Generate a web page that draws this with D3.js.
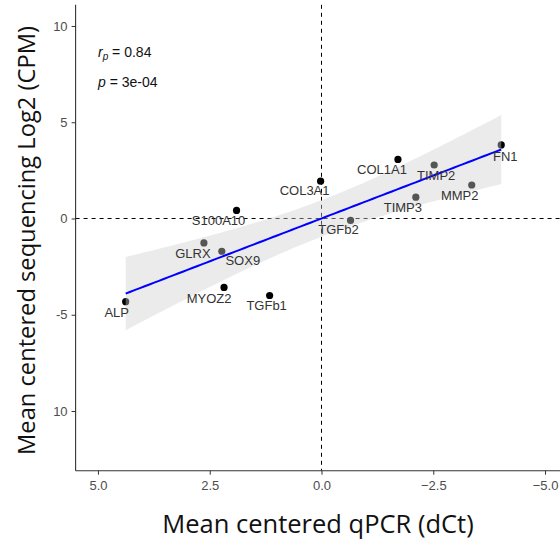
<!DOCTYPE html>
<html>
<head>
<meta charset="utf-8">
<script src="https://cdn.jsdelivr.net/npm/d3@7"></script>
<style>
  body { margin: 0; background: #fff; }
  svg { display: block; }
</style>
</head>
<body>
<svg id="chart"></svg>
<script>
const genes = ["ALP", "GLRX", "SOX9", "S100A10", "COL3A1", "MYOZ2", "TGFb1", "TGFb2", "COL1A1", "TIMP2", "TIMP3", "MMP2", "FN1"]
const qpcr = [4.38, 2.63, 2.23, 1.90, 0.02, 2.18, 1.16, -0.65, -1.71, -2.52, -2.11, -3.36, -4.02]
const seq = [-4.32, -1.27, -1.70, 0.42, 1.94, -3.58, -4.00, -0.10, 3.07, 2.78, 1.11, 1.74, 3.82]
const xTicks = [5, 2.5, 0, -2.5, -5]
const yTicks = [10, 5, 0, -5, -10]
const yTickLabels = ["10", "5", "0", "-5", "10"]

// label nudges in pixels (dx, dy of text centre from point)
const nudge = {
    ALP: [-9, 15], GLRX: [-11, 15], SOX9: [21, 14], S100A10: [-18, 15], COL3A1: [-16, 14],
    MYOZ2: [-15, 16], TGFb1: [-3, 14], TGFb2: [-12, 14], COL1A1: [-16, 15], TIMP2: [2, 15],
    TIMP3: [-13, 15], MMP2: [-12, 15], FN1: [4, 16]
}

const width = 560
const height = 541
const pL = 75.6, pR = 567.4, pT = 4.8, pB = 470.7

const svg = d3.select("#chart").attr("width", width).attr("height", height)

const x = d3.scaleLinear().domain([5.5, -5.5]).range([pL, pR])
const y = d3.scaleLinear().domain([-13.1, 11.1]).range([pB, pT])

const data = genes.map((g, i) => ({ gene: g, x: qpcr[i], y: seq[i] }))

// linear fit + 95% confidence band (like geom_smooth(method = "lm"))
const n = data.length
const mx = d3.mean(data, d => d.x), my = d3.mean(data, d => d.y)
const sxx = d3.sum(data, d => (d.x - mx) ** 2)
const slope = d3.sum(data, d => (d.x - mx) * (d.y - my)) / sxx
const icpt = my - slope * mx
const s = Math.sqrt(d3.sum(data, d => (d.y - icpt - slope * d.x) ** 2) / (n - 2))
const tq = 2.201 // t(0.975, 11)
const fitX = d3.range(80).map(i => d3.min(qpcr) + i * (d3.max(qpcr) - d3.min(qpcr)) / 79)
const fit = fitX.map(v => {
    const f = icpt + slope * v
    const se = s * Math.sqrt(1 / n + (v - mx) ** 2 / sxx)
    return { x: v, y: f, lo: f - tq * se, hi: f + tq * se }
})

// dashed reference lines
svg.append("line")
    .attr("x1", x(0)).attr("x2", x(0)).attr("y1", pT).attr("y2", pB)
    .attr("stroke", "#000").attr("stroke-dasharray", "4,4")
svg.append("line")
    .attr("x1", pL).attr("x2", pR).attr("y1", y(0)).attr("y2", y(0))
    .attr("stroke", "#000").attr("stroke-dasharray", "4,4")

// points
svg.selectAll("circle")
    .data(data)
    .join("circle")
    .attr("cx", d => x(d.x))
    .attr("cy", d => y(d.y))
    .attr("r", 3.6)
    .attr("fill", "#000")

// band over the points
svg.append("path")
    .datum(fit)
    .attr("d", d3.area().x(d => x(d.x)).y0(d => y(d.lo)).y1(d => y(d.hi)))
    .attr("fill", "#cfcfcf")
    .attr("fill-opacity", 0.41)

svg.append("path")
    .datum(fit)
    .attr("d", d3.line(d => x(d.x), d => y(d.y)))
    .attr("fill", "none")
    .attr("stroke", "#0000ff")
    .attr("stroke-width", 2)

// gene labels
svg.selectAll("text.lab")
    .data(data)
    .join("text")
    .attr("class", "lab")
    .attr("x", d => x(d.x) + nudge[d.gene][0])
    .attr("y", d => y(d.y) + nudge[d.gene][1])
    .attr("text-anchor", "middle")
    .style("font-family", "Liberation Sans, Arial, sans-serif")
    .style("font-size", "13px")
    .style("fill", "#333")
    .text(d => d.gene)

// axes
const ax = svg.append("g")
    .attr("transform", `translate(0,${pB})`)
    .call(d3.axisBottom(x).tickValues(xTicks).tickFormat(d3.format(".1f")).tickSize(4).tickPadding(6))
const ay = svg.append("g")
    .attr("transform", `translate(${pL},0)`)
    .call(d3.axisLeft(y).tickValues(yTicks).tickFormat((d, i) => yTickLabels[i]).tickSize(4).tickPadding(4))

for (const g of [ax, ay]) {
    g.select(".domain").attr("stroke", "#333").attr("stroke-width", 1.1)
    g.selectAll(".tick line").attr("stroke", "#333")
    g.selectAll(".tick text")
        .style("font-family", "Liberation Sans, Arial, sans-serif")
        .style("font-size", "13px")
        .style("fill", "#4d4d4d")
}
ax.select(".domain").attr("d", `M${pL},0H${pR}`)
ay.select(".domain").attr("d", `M0,${pT}V${pB}`)

// annotation
const ann = svg.append("g")
    .style("font-family", "Liberation Sans, Arial, sans-serif")
    .style("font-size", "14px")
    .style("fill", "#111")
const r1 = ann.append("text").attr("x", 98).attr("y", 57)
r1.append("tspan").style("font-style", "italic").text("r")
r1.append("tspan").style("font-style", "italic").style("font-size", "10px").attr("dy", 3).text("p")
r1.append("tspan").attr("dy", -3).text(" = 0.84")
const r2 = ann.append("text").attr("x", 98).attr("y", 87)
r2.append("tspan").style("font-style", "italic").text("p")
r2.append("tspan").text(" = 3e-04")

// axis titles
svg.append("text")
    .attr("x", 318).attr("y", 533)
    .attr("text-anchor", "middle")
    .style("font-family", "Open Sans, sans-serif")
    .style("font-size", "25.5px")
    .style("fill", "#111")
    .text("Mean centered qPCR (dCt)")
svg.append("text")
    .attr("transform", `translate(35,240.5) rotate(-90)`)
    .attr("text-anchor", "middle")
    .style("font-family", "Open Sans, sans-serif")
    .style("font-size", "23.7px")
    .style("fill", "#111")
    .text("Mean centered sequencing Log2 (CPM)")
</script>
</body>
</html>
